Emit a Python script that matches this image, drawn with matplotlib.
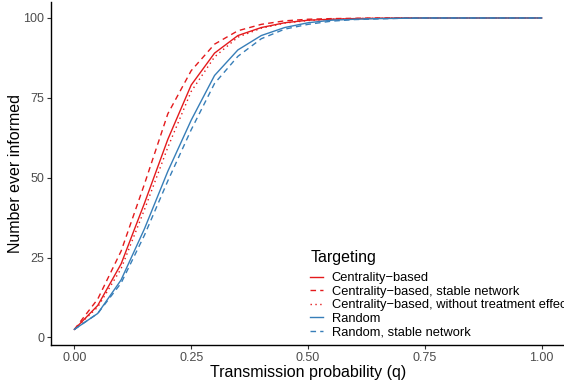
import matplotlib
matplotlib.use("Agg")
import matplotlib.pyplot as plt
import numpy as np

plt.rcParams['font.family'] = ['Liberation Sans', 'DejaVu Sans']

# ── Data ─────────────────────────────────────────────────────────────────────
q = [0.00, 0.05, 0.10, 0.15, 0.20, 0.25, 0.30, 0.35, 0.40, 0.45, 0.50,
     0.55, 0.60, 0.65, 0.70, 0.75, 0.80, 0.85, 0.90, 0.95, 1.00]

centrality        = [2.5, 10, 23, 42, 62, 79, 89, 94.5, 97, 98.5, 99.3,
                     99.6, 99.8, 99.9, 100, 100, 100, 100, 100, 100, 100]
centrality_stable = [2.5, 12, 27, 48, 70, 83.5, 91.8, 96, 98, 99.1, 99.6,
                     99.8, 99.9, 100, 100, 100, 100, 100, 100, 100, 100]
centrality_notreat = [2.5, 9.5, 21.5, 40, 59.5, 77, 87.8, 94, 96.8, 98.4, 99.2,
                      99.6, 99.8, 99.9, 100, 100, 100, 100, 100, 100, 100]
random_t          = [2.5, 7.5, 18, 34, 52, 68, 82, 90, 94.5, 97, 98.5,
                     99.3, 99.6, 99.8, 99.9, 100, 100, 100, 100, 100, 100]
random_stable     = [2.5, 7.5, 17, 32, 49, 65, 79.5, 88, 93.5, 96.5, 98,
                     99, 99.5, 99.7, 99.9, 100, 100, 100, 100, 100, 100]

labels = ['Centrality\u2212based',
          'Centrality\u2212based, stable network',
          'Centrality\u2212based, without treatment effect',
          'Random',
          'Random, stable network']

RED  = '#E41A1C'
BLUE = '#377EB8'

W, H = 564, 385
fig = plt.figure(figsize=(W / 100, H / 100), dpi=100)
ax = fig.add_axes([51 / W, 40 / H, 514 / W, 342.6 / H])

series = [centrality, centrality_stable, centrality_notreat, random_t, random_stable]
styles = [(RED, '-'), (RED, (0, (4, 3))), (RED, (0, (1, 2.5))),
          (BLUE, '-'), (BLUE, (0, (4, 3)))]
for ys, (c, ls), lab in zip(series, styles, labels):
    ax.plot(q, ys, color=c, linestyle=ls, linewidth=1.0, label=lab)

ax.set_xlim(-0.05, 1.05)
ax.set_ylim(-2.375, 104.875)
ax.set_xticks([0, 0.25, 0.5, 0.75, 1.0])
ax.set_xticklabels(['0.00', '0.25', '0.50', '0.75', '1.00'])
ax.set_yticks([0, 25, 50, 75, 100])

for s in ['top', 'right']:
    ax.spines[s].set_visible(False)
for s in ['left', 'bottom']:
    ax.spines[s].set_linewidth(1.0)
    ax.spines[s].set_color('black')
ax.tick_params(axis='both', length=3, width=0.8, color='#333333',
               labelsize=9, labelcolor='#4D4D4D', pad=2)

ax.set_xlabel('Transmission probability (q)', fontsize=11.5, labelpad=1)
ax.set_ylabel('Number ever informed', fontsize=11.5)
ax.yaxis.set_label_coords(-0.0545, 0.5)

leg = ax.legend(title='Targeting', loc='upper left',
                bbox_to_anchor=(305 / W, 1 - 245 / H), bbox_transform=fig.transFigure,
                frameon=False, fontsize=9.3, title_fontsize=11.5,
                handlelength=1.0, handletextpad=0.68, labelspacing=0.12,
                alignment='left', borderaxespad=0)
leg._legend_box.sep = 5

fig.savefig('out.png', dpi=100)
